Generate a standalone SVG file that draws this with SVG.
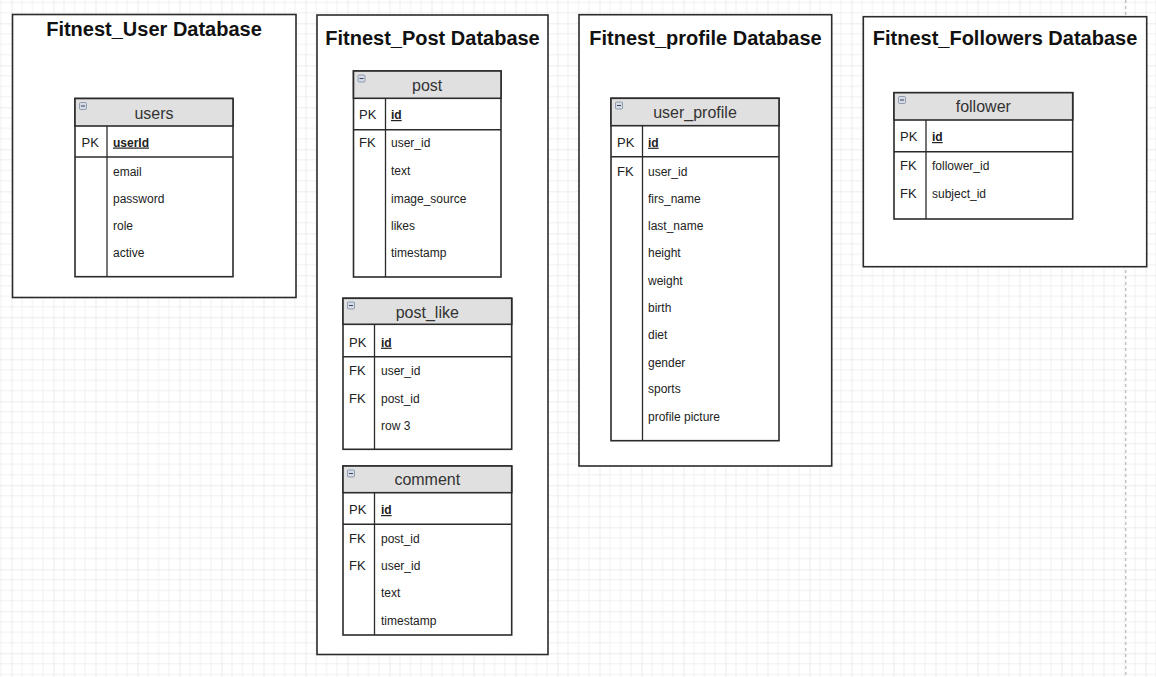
<svg xmlns="http://www.w3.org/2000/svg" width="1156" height="677" viewBox="0 0 1156 677">
<style>
.cont{fill:#fff;stroke:#2b2b2b;stroke-width:1.6}
.ctitle{font-family:"Liberation Sans",Arial,sans-serif;font-weight:bold;font-size:20px;fill:#111;text-anchor:middle}
.tbl{fill:#fff;stroke:#2b2b2b;stroke-width:1.6}
.hdr{fill:#e0e0e0;stroke:#2b2b2b;stroke-width:1.6}
.ln{stroke:#2b2b2b;stroke-width:1.6;fill:none}
.vln{stroke:#2b2b2b;stroke-width:1.3;fill:none}
.ttitle{font-family:"Liberation Sans",Arial,sans-serif;font-size:16px;fill:#333;text-anchor:middle}
.key{font-family:"Liberation Sans",Arial,sans-serif;font-size:13px;fill:#222}
.pk{font-family:"Liberation Sans",Arial,sans-serif;font-size:12px;fill:#222;font-weight:bold;text-decoration:underline}
.fld{font-family:"Liberation Sans",Arial,sans-serif;font-size:12px;fill:#222}
.ico{fill:#d3dae4;stroke:#7d8ca3;stroke-width:0.8}
.icoline{stroke:#3a4658;stroke-width:1}
</style>
<defs>
<pattern id="grid" x="11.5" y="23.3" width="42" height="42" patternUnits="userSpaceOnUse">
<path d="M10.5 0V42M21 0V42M31.5 0V42M0 10.5H42M0 21H42M0 31.5H42" stroke="#f0f0f0" stroke-width="1" fill="none"/>
<path d="M0 0V42M0 0H42" stroke="#dadada" stroke-width="1" fill="none"/>
</pattern>
</defs>
<rect x="0" y="0" width="1156" height="677" fill="#fff"/>
<rect x="0" y="0" width="1156" height="677" fill="url(#grid)"/>
<line x1="1125.7" y1="0" x2="1125.7" y2="677" stroke="#c4c4c4" stroke-width="1.5" stroke-dasharray="3,3"/>

<g id="container-user">
<rect class="cont" x="12.5" y="14.5" width="283.5" height="283"/>
<text class="ctitle" x="154" y="36">Fitnest_User Database</text>
</g>
<g id="container-post">
<rect class="cont" x="317" y="15" width="231" height="639.5"/>
<text class="ctitle" x="432.5" y="45">Fitnest_Post Database</text>
</g>
<g id="container-profile">
<rect class="cont" x="579" y="14.7" width="252.7" height="451.3"/>
<text class="ctitle" x="705.5" y="45">Fitnest_profile Database</text>
</g>
<g id="container-followers">
<rect class="cont" x="863.3" y="16.7" width="283.4" height="250"/>
<text class="ctitle" x="1005" y="45">Fitnest_Followers Database</text>
</g>

<g id="table-users">
<rect class="tbl" x="75" y="98.5" width="158" height="178.2"/>
<rect class="hdr" x="75" y="98.5" width="158" height="27.5"/>
<rect class="ico" x="79.5" y="102.5" width="7" height="7" rx="1"/><line class="icoline" x1="81" y1="106" x2="85" y2="106"/>
<text class="ttitle" x="154" y="118.5">users</text>
<line class="ln" x1="75" y1="157" x2="233" y2="157"/>
<line class="vln" x1="107" y1="126" x2="107" y2="276.7"/>
<text class="key" x="81.5" y="146.5">PK</text>
<text class="pk" x="113" y="146.5">userId</text>
<text class="fld" x="113" y="175.5">email</text>
<text class="fld" x="113" y="203">password</text>
<text class="fld" x="113" y="230">role</text>
<text class="fld" x="113" y="257">active</text>
</g>

<g id="table-post">
<rect class="tbl" x="353.5" y="71" width="147.5" height="206"/>
<rect class="hdr" x="353.5" y="71" width="147.5" height="27.3"/>
<rect class="ico" x="358" y="75" width="7" height="7" rx="1"/><line class="icoline" x1="359.5" y1="78.5" x2="363.5" y2="78.5"/>
<text class="ttitle" x="427.2" y="90.5">post</text>
<line class="ln" x1="353.5" y1="129.8" x2="501" y2="129.8" stroke-width="2"/>
<line class="vln" x1="385.5" y1="98.3" x2="385.5" y2="277"/>
<text class="key" x="359" y="119">PK</text>
<text class="pk" x="391" y="119">id</text>
<text class="key" x="359" y="147.3">FK</text>
<text class="fld" x="391" y="147.3">user_id</text>
<text class="fld" x="391" y="175">text</text>
<text class="fld" x="391" y="202.7">image_source</text>
<text class="fld" x="391" y="230">likes</text>
<text class="fld" x="391" y="256.7">timestamp</text>
</g>

<g id="table-post-like">
<rect class="tbl" x="343" y="298.3" width="168.7" height="151"/>
<rect class="hdr" x="343" y="298.3" width="168.7" height="26"/>
<rect class="ico" x="347.5" y="302" width="7" height="7" rx="1"/><line class="icoline" x1="349" y1="305.5" x2="353" y2="305.5"/>
<text class="ttitle" x="427.3" y="317.5">post_like</text>
<line class="ln" x1="343" y1="356.7" x2="511.7" y2="356.7"/>
<line class="vln" x1="374.5" y1="324.3" x2="374.5" y2="449.3"/>
<text class="key" x="349" y="346.7">PK</text>
<text class="pk" x="381" y="346.7">id</text>
<text class="key" x="349" y="375">FK</text>
<text class="fld" x="381" y="375">user_id</text>
<text class="key" x="349" y="402.7">FK</text>
<text class="fld" x="381" y="402.7">post_id</text>
<text class="fld" x="381" y="430">row 3</text>
</g>

<g id="table-comment">
<rect class="tbl" x="343" y="466" width="168.7" height="169"/>
<rect class="hdr" x="343" y="466" width="168.7" height="26.7"/>
<rect class="ico" x="347.5" y="470" width="7" height="7" rx="1"/><line class="icoline" x1="349" y1="473.5" x2="353" y2="473.5"/>
<text class="ttitle" x="427.3" y="485">comment</text>
<line class="ln" x1="343" y1="524.3" x2="511.7" y2="524.3"/>
<line class="vln" x1="374.5" y1="492.7" x2="374.5" y2="635"/>
<text class="key" x="349" y="514">PK</text>
<text class="pk" x="381" y="514">id</text>
<text class="key" x="349" y="542.7">FK</text>
<text class="fld" x="381" y="542.7">post_id</text>
<text class="key" x="349" y="570">FK</text>
<text class="fld" x="381" y="570">user_id</text>
<text class="fld" x="381" y="597.3">text</text>
<text class="fld" x="381" y="625">timestamp</text>
</g>

<g id="table-user-profile">
<rect class="tbl" x="611" y="98.3" width="168" height="342.4"/>
<rect class="hdr" x="611" y="98.3" width="168" height="27.4"/>
<rect class="ico" x="615.5" y="102" width="7" height="7" rx="1"/><line class="icoline" x1="617" y1="105.5" x2="621" y2="105.5"/>
<text class="ttitle" x="695" y="118.3">user_profile</text>
<line class="ln" x1="611" y1="156.7" x2="779" y2="156.7"/>
<line class="vln" x1="642.5" y1="125.7" x2="642.5" y2="440.7"/>
<text class="key" x="617" y="146.7">PK</text>
<text class="pk" x="648" y="146.7">id</text>
<text class="key" x="617" y="175.7">FK</text>
<text class="fld" x="648" y="175.7">user_id</text>
<text class="fld" x="648" y="203.3">firs_name</text>
<text class="fld" x="648" y="230">last_name</text>
<text class="fld" x="648" y="256.7">height</text>
<text class="fld" x="648" y="285">weight</text>
<text class="fld" x="648" y="312.3">birth</text>
<text class="fld" x="648" y="339">diet</text>
<text class="fld" x="648" y="366.7">gender</text>
<text class="fld" x="648" y="393.3">sports</text>
<text class="fld" x="648" y="420.7">profile picture</text>
</g>

<g id="table-follower">
<rect class="tbl" x="894" y="92.7" width="178.7" height="126.3"/>
<rect class="hdr" x="894" y="92.7" width="178.7" height="27.3"/>
<rect class="ico" x="898.5" y="96.5" width="7" height="7" rx="1"/><line class="icoline" x1="900" y1="100" x2="904" y2="100"/>
<text class="ttitle" x="983.3" y="112.3">follower</text>
<line class="ln" x1="894" y1="151.7" x2="1072.7" y2="151.7" stroke-width="2"/>
<line class="vln" x1="926" y1="120" x2="926" y2="219"/>
<text class="key" x="900" y="141">PK</text>
<text class="pk" x="932" y="141">id</text>
<text class="key" x="900" y="170">FK</text>
<text class="fld" x="932" y="170">follower_id</text>
<text class="key" x="900" y="197.7">FK</text>
<text class="fld" x="932" y="197.7">subject_id</text>
</g>

<g id="connectors"></g>
</svg>
